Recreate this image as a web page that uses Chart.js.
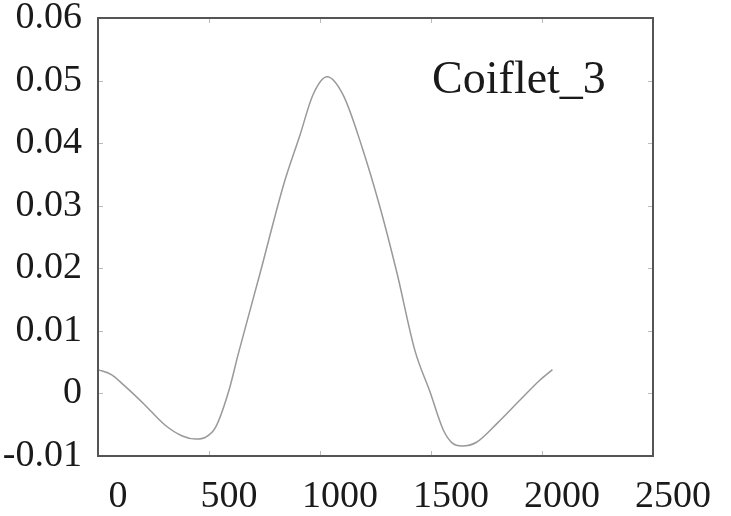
<!DOCTYPE html>
<html>
<head>
<meta charset="utf-8">
<script src="https://cdn.jsdelivr.net/npm/chart.js@4"></script>
<style>
  html, body { margin: 0; padding: 0; background: #fff; }
  #wrap { width: 731px; height: 516px; }
</style>
</head>
<body>
<div id="wrap"><canvas id="chart"></canvas></div>
<script>
// values
const xValues = [0, 60, 120, 210, 300, 380, 440, 485, 530, 590, 631, 730, 838, 910, 968, 1032,
                 1104, 1189, 1270, 1347, 1428, 1495, 1555, 1595, 1640, 1705, 1800, 1900, 1990, 2047];
const yValues = [0.0038, 0.0030, 0.0012, -0.0018, -0.0050, -0.0068, -0.0073, -0.0070, -0.0054, 0.0005,
                 0.0062, 0.0192, 0.0336, 0.0413, 0.0477, 0.0506, 0.0477, 0.0394, 0.0298, 0.0192,
                 0.0068, 0.0003, -0.0058, -0.0079, -0.0084, -0.0078, -0.0047, -0.0011, 0.0021, 0.0038];
const seriesName = 'Coiflet_3';
const xTicks = [0, 500, 1000, 1500, 2000, 2500];
const yTicks = [-0.01, 0, 0.01, 0.02, 0.03, 0.04, 0.05, 0.06];

const points = xValues.map((x, i) => ({ x: x, y: yValues[i] }));
const serif = "'Liberation Serif', 'DejaVu Serif', serif";

// box, inward tick marks and the series label
const framePlugin = {
    id: 'frame',
    afterDraw(chart) {
        const { ctx, chartArea: a, scales } = chart;
        ctx.save();
        ctx.strokeStyle = '#bbb';
        ctx.lineWidth = 1;
        ctx.beginPath();
        xTicks.forEach(v => {
            const px = Math.round(scales.x.getPixelForValue(v)) + 0.5;
            ctx.moveTo(px, a.top); ctx.lineTo(px, a.top + 5);
            ctx.moveTo(px, a.bottom); ctx.lineTo(px, a.bottom - 5);
        });
        yTicks.forEach(v => {
            const py = Math.round(scales.y.getPixelForValue(v)) + 0.5;
            ctx.moveTo(a.left, py); ctx.lineTo(a.left + 5, py);
            ctx.moveTo(a.right, py); ctx.lineTo(a.right - 5, py);
        });
        ctx.stroke();

        ctx.strokeStyle = '#555';
        ctx.lineWidth = 2;
        ctx.strokeRect(a.left, a.top, a.right - a.left, a.bottom - a.top);

        ctx.fillStyle = '#1a1a1a';
        ctx.font = '46px ' + serif;
        ctx.textAlign = 'left';
        ctx.textBaseline = 'alphabetic';
        ctx.fillText(seriesName, scales.x.getPixelForValue(1505), scales.y.getPixelForValue(0.048));
        ctx.restore();
    }
};

new Chart(document.getElementById('chart'), {
    type: 'scatter',
    data: {
        datasets: [{
            label: seriesName,
            data: points,
            showLine: true,
            borderColor: '#999',
            borderWidth: 1.5,
            pointRadius: 0,
            cubicInterpolationMode: 'monotone',
            fill: false
        }]
    },
    options: {
        responsive: true,
        maintainAspectRatio: false,
        animation: false,
        layout: { padding: { top: 18, right: 78, left: 0, bottom: 0 } },
        plugins: {
            legend: { display: false },
            tooltip: { enabled: false }
        },
        scales: {
            x: {
                type: 'linear',
                min: 0,
                max: 2500,
                afterBuildTicks: s => { s.ticks = xTicks.map(v => ({ value: v })); },
                afterFit: s => { s.height = 60; s.paddingLeft = 0; s.paddingRight = 0; },
                grid: { display: false },
                border: { display: false },
                ticks: {
                    color: '#1a1a1a',
                    font: { family: serif, size: 38 },
                    padding: 10,
                    labelOffset: 20,
                    maxRotation: 0,
                    autoSkip: false,
                    callback: v => String(v)
                }
            },
            y: {
                type: 'linear',
                min: -0.01,
                max: 0.06,
                afterBuildTicks: s => { s.ticks = yTicks.map(v => ({ value: v })); },
                afterFit: s => { s.width = 98; s.paddingTop = 0; s.paddingBottom = 0; },
                grid: { display: false },
                border: { display: false },
                ticks: {
                    color: '#1a1a1a',
                    font: { family: serif, size: 38 },
                    padding: 8,
                    autoSkip: false,
                    callback: v => String(parseFloat(v.toFixed(2)))
                }
            }
        }
    },
    plugins: [framePlugin]
});
</script>
</body>
</html>
